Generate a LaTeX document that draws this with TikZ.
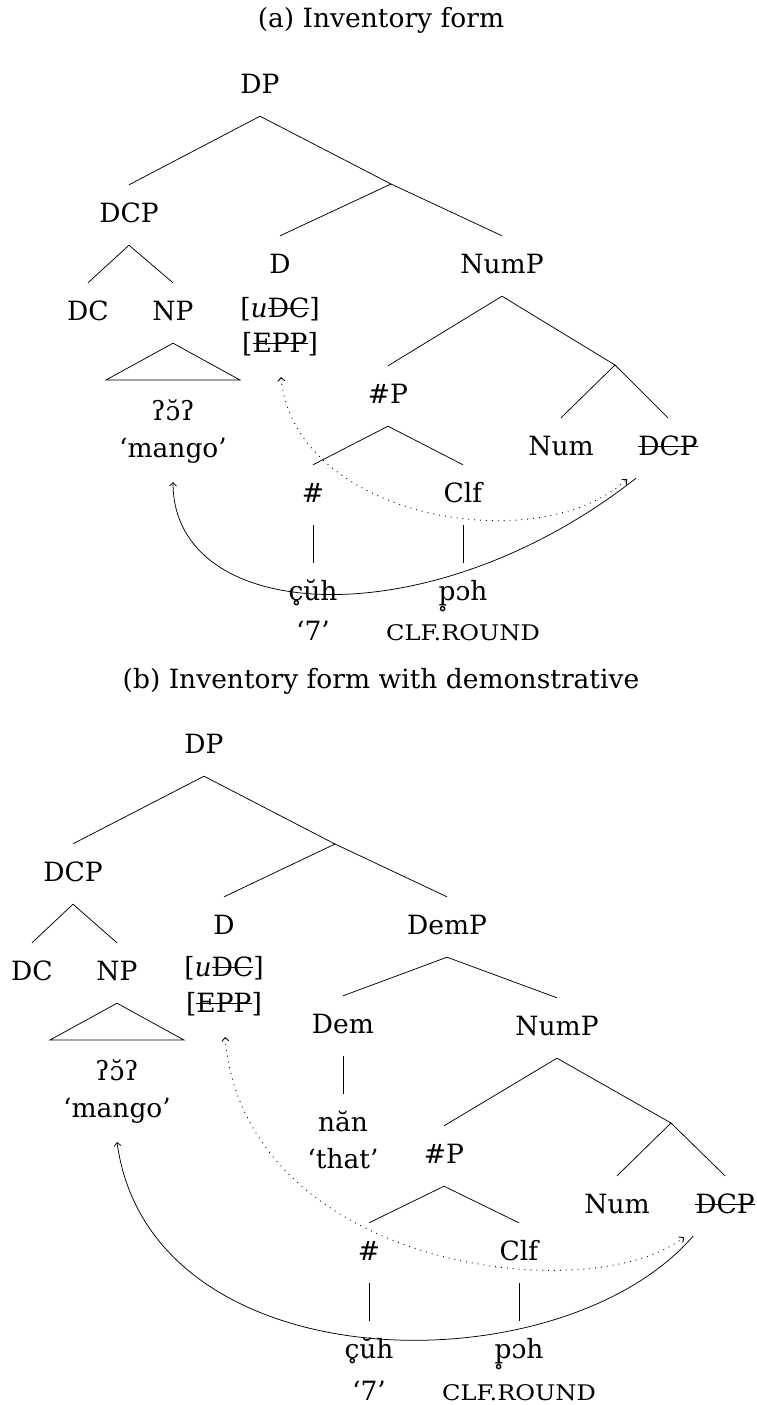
\documentclass[tikz,border=0pt]{standalone}
\usepackage{fontspec}
\usepackage{graphicx}
\setmainfont{DejaVu Serif}
\usetikzlibrary{calc,arrows.meta}
\newcommand\mystrk[1]{\setbox0\hbox{#1}\rlap{\rule[0.3em]{\wd0}{0.7pt}}\box0}
\newcommand\mysc[1]{{\fontsize{21.5}{23}\selectfont\scalebox{1.12}[1]{#1}}}
\begin{document}
\begin{tikzpicture}[x=1pt,y=-1pt,
  every node/.style={font=\fontsize{26.5}{30}\selectfont},
  lab/.style={inner sep=0pt, anchor=base, text height=37pt, text depth=23pt},
  txt/.style={inner sep=0pt, anchor=base},
  branch/.style={line width=0.75pt},
  mv/.style={line width=0.75pt, -{Straight Barb[length=3.5pt,width=7pt]}},
  agr/.style={line width=0.9pt, dash pattern=on 0.9pt off 5pt, {Straight Barb[length=3.5pt,width=7pt]}-{Straight Barb[length=3.5pt,width=7pt]}}]
\useasboundingbox (0,0) rectangle (757,1405);
% ---------------- (a) ----------------
\node[txt] (ta) at (381,28) {(a) Inventory form};
\node[lab] (aDP) at (260,93) {DP};
\coordinate (aDbar) at (391,184);
\node[lab] (aDCP) at (129,222) {DCP};
\node[lab] (aDC) at (88,320) {DC};
\node[lab] (aNP) at (173,320) {NP};
\node[lab] (aD) at (280,273) {D};
\node[txt] (aF1) at (280,317) {[\textit{u}\mystrk{DC}]};
\node[txt] (aF2) at (280,352) {[\mystrk{EPP}]};
\node[lab] (aNumP) at (502,273) {NumP};
\node[lab] (aHP) at (388,403) {\#P};
\coordinate (aNumbar) at (615,365);
\node[lab] (aNum) at (561,455) {Num};
\node[lab] (aDCPt) at (668,455) {\mystrk{DCP}};
\node[lab] (aH) at (313,502) {\#};
\node[lab] (aClf) at (463,502) {Clf};
\node[lab] (aW1) at (313,600) {c̥ŭh};
\node[lab] (aW2) at (463,600) {p̥ɔh};
\node[txt] (aG1) at (313,640) {‘7’};
\node[txt] (aG2) at (463,640) {\mysc{CLF.ROUND}};
\node[txt] (aN) at (173,420) {ʔɔ̆ʔ};
\node[txt] (aM) at (173,457) {‘mango’};
\draw[branch] (aDP.south) -- (aDCP.north);
\draw[branch] (aDP.south) -- (aDbar);
\draw[branch] (aDbar) -- (aD.north);
\draw[branch] (aDbar) -- (aNumP.north);
\draw[branch] (aDCP.south) -- (aDC.north);
\draw[branch] (aDCP.south) -- (aNP.north);
\draw[branch] (aNP.south) -- ($(aN.base)+(67,-40)$) -- ($(aN.base)+(-67,-40)$) -- cycle;
\draw[branch] (aNumP.south) -- (aHP.north);
\draw[branch] (aNumP.south) -- (aNumbar);
\draw[branch] (aNumbar) -- (aNum.north);
\draw[branch] (aNumbar) -- (aDCPt.north);
\draw[branch] (aHP.south) -- (aH.north);
\draw[branch] (aHP.south) -- (aClf.north);
\draw[branch] (aH.south) -- (aW1.north);
\draw[branch] (aClf.south) -- (aW2.north);
\draw[mv] ($(aDCPt.south)+(-32,0)$) .. controls (430,640) and (173,625) .. ($(aM.base)+(0,25)$);
\draw[agr] ($(aF2.base)+(1,25)$) .. controls (295,520) and (540,560) .. ($(aDCPt.south)+(-41,1)$);
% ---------------- (b) ----------------
\node[txt] (tb) at (381,688) {(b) Inventory form with demonstrative};
\node[lab] (bDP) at (204,753) {DP};
\coordinate (bDbar) at (335,844);
\node[lab] (bDCP) at (73,881) {DCP};
\node[lab] (bDC) at (32,980) {DC};
\node[lab] (bNP) at (117,980) {NP};
\node[lab] (bD) at (224,934) {D};
\node[txt] (bF1) at (224,976) {[\textit{u}\mystrk{DC}]};
\node[txt] (bF2) at (224,1012) {[\mystrk{EPP}]};
\node[lab] (bDemP) at (447,934) {DemP};
\node[lab] (bDem) at (343,1033) {Dem};
\node[lab] (bW3) at (343,1131) {năn};
\node[txt] (bG3) at (343,1168) {‘that’};
\node[lab] (bNumP) at (557,1035) {NumP};
\node[lab] (bHP) at (444,1163) {\#P};
\coordinate (bNumbar) at (671,1123);
\node[lab] (bNum) at (617,1213) {Num};
\node[lab] (bDCPt) at (725,1213) {\mystrk{DCP}};
\node[lab] (bH) at (369,1260) {\#};
\node[lab] (bClf) at (519,1260) {Clf};
\node[lab] (bW1) at (369,1358) {c̥ŭh};
\node[lab] (bW2) at (519,1358) {p̥ɔh};
\node[txt] (bG1) at (369,1400) {‘7’};
\node[txt] (bG2) at (519,1400) {\mysc{CLF.ROUND}};
\node[txt] (bN) at (117,1080) {ʔɔ̆ʔ};
\node[txt] (bM) at (117,1117) {‘mango’};
\draw[branch] (bDP.south) -- (bDCP.north);
\draw[branch] (bDP.south) -- (bDbar);
\draw[branch] (bDbar) -- (bD.north);
\draw[branch] (bDbar) -- (bDemP.north);
\draw[branch] (bDCP.south) -- (bDC.north);
\draw[branch] (bDCP.south) -- (bNP.north);
\draw[branch] (bNP.south) -- ($(bN.base)+(67,-40)$) -- ($(bN.base)+(-67,-40)$) -- cycle;
\draw[branch] (bDemP.south) -- (bDem.north);
\draw[branch] (bDemP.south) -- (bNumP.north);
\draw[branch] (bDem.south) -- (bW3.north);
\draw[branch] (bNumP.south) -- (bHP.north);
\draw[branch] (bNumP.south) -- (bNumbar);
\draw[branch] (bNumbar) -- (bNum.north);
\draw[branch] (bNumbar) -- (bDCPt.north);
\draw[branch] (bHP.south) -- (bH.north);
\draw[branch] (bHP.south) -- (bClf.north);
\draw[branch] (bH.south) -- (bW1.north);
\draw[branch] (bClf.south) -- (bW2.north);
\draw[mv] ($(bDCPt.south)+(-32,0)$) .. controls (560,1390) and (150,1385) .. ($(bM.base)+(0,25)$);
\draw[agr] ($(bF2.base)+(1,25)$) .. controls (245,1270) and (590,1310) .. ($(bDCPt.south)+(-41,1)$);
\end{tikzpicture}
\end{document}
